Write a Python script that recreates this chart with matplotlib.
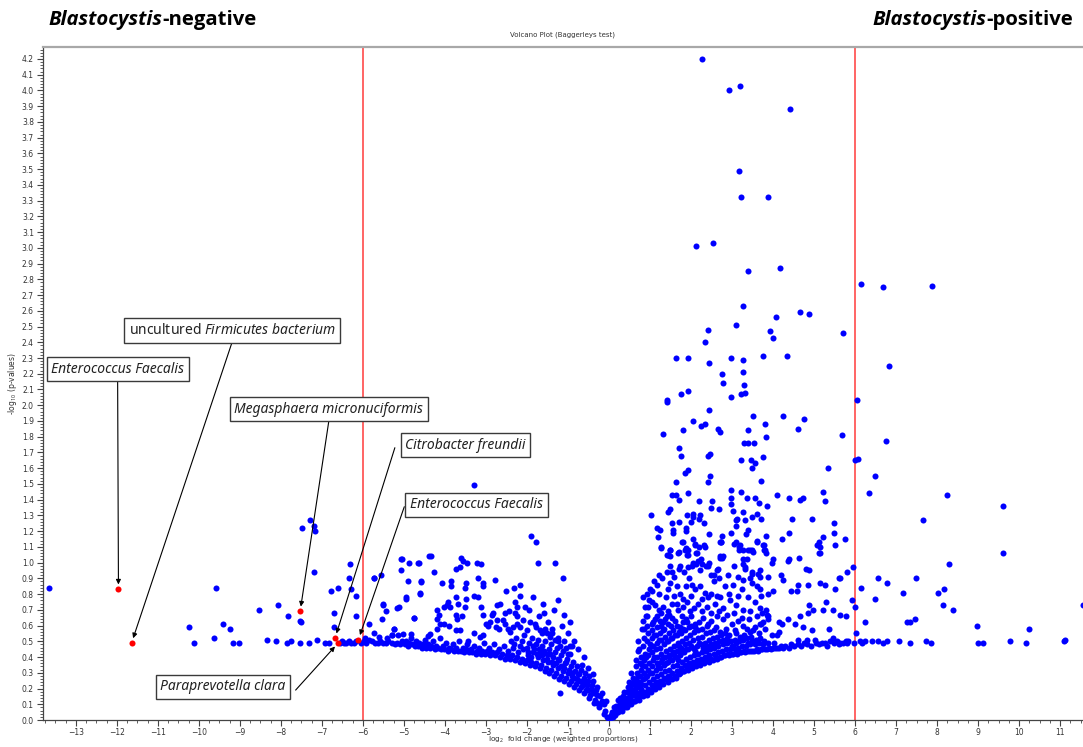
import matplotlib
matplotlib.use("Agg")
import matplotlib.pyplot as plt
from matplotlib.ticker import MultipleLocator, FormatStrFormatter

plt.rcParams['mathtext.fontset'] = 'custom'
plt.rcParams['mathtext.rm'] = 'Noto Sans'
plt.rcParams['mathtext.it'] = 'Noto Sans:italic'

# ---------------------------------------------------------------------------
# Data: (log2 fold change, -log10 p-value) per taxon
# ---------------------------------------------------------------------------

# Taxa enriched in Blastocystis-positive samples with strong signal
pos_high = [
    (2.28, 4.20), (3.20, 4.03), (2.93, 4.00), (4.42, 3.88), (3.17, 3.49), (3.23, 3.32), (3.87, 3.32),
    (2.13, 3.01), (2.54, 3.03), (3.38, 2.85), (4.16, 2.87), (3.28, 2.63), (4.65, 2.59), (4.88, 2.58),
    (4.07, 2.56), (3.09, 2.51), (2.42, 2.48), (3.93, 2.47), (4.01, 2.43), (5.71, 2.46), (2.35, 2.40),
    (1.63, 2.30), (1.93, 2.30), (2.98, 2.30), (3.28, 2.29), (3.76, 2.31), (4.35, 2.31), (2.44, 2.27),
    (2.76, 2.20), (3.26, 2.21), (2.77, 2.14), (3.30, 2.13), (1.76, 2.07), (1.93, 2.09), (2.97, 2.05),
    (3.21, 2.07), (3.33, 2.08), (1.41, 2.03), (1.42, 2.02), (2.45, 1.97), (3.52, 1.93), (4.24, 1.93),
    (4.75, 1.91), (2.04, 1.90), (2.24, 1.87), (2.35, 1.88), (3.81, 1.88), (2.67, 1.85), (2.71, 1.83),
    (4.60, 1.85), (1.32, 1.82), (1.80, 1.84), (3.39, 1.84), (3.84, 1.80), (5.69, 1.81), (3.29, 1.76),
    (3.40, 1.76), (3.54, 1.76), (1.70, 1.73), (1.75, 1.68), (2.42, 1.68), (2.46, 1.69), (3.21, 1.65),
    (3.46, 1.65), (3.55, 1.63), (3.75, 1.67), (3.48, 1.60), (5.34, 1.60), (1.93, 1.59), (1.85, 1.57),
    (2.46, 1.55), (1.63, 1.51), (2.41, 1.51), (3.72, 1.52), (1.55, 1.43), (1.63, 1.43), (1.92, 1.44),
    (1.72, 1.40), (2.98, 1.46), (3.23, 1.45), (2.98, 1.41), (3.36, 1.41), (3.57, 1.41), (4.11, 1.43),
    (4.38, 1.41), (4.65, 1.40), (4.74, 1.41), (5.23, 1.45), (5.27, 1.39), (2.19, 1.39), (2.51, 1.39),
    (2.50, 1.35), (2.68, 1.34), (2.97, 1.37), (3.02, 1.33), (3.67, 1.38), (3.85, 1.36), (1.50, 1.34),
    (1.45, 1.32), (1.03, 1.30), (1.90, 1.30), (2.04, 1.31), (2.06, 1.29), (2.23, 1.30), (2.19, 1.28),
    (3.28, 1.32), (3.60, 1.31), (3.13, 1.28), (3.11, 1.27), (3.33, 1.27), (3.50, 1.29), (3.71, 1.28),
    (4.46, 1.28), (4.94, 1.28), (1.55, 1.25), (1.70, 1.26), (2.00, 1.26), (2.33, 1.25), (1.18, 1.22),
    (1.24, 1.21), (1.57, 1.21), (1.57, 1.19), (1.88, 1.22), (1.88, 1.20), (3.10, 1.23), (3.38, 1.21),
    (2.97, 1.19), (3.35, 1.18), (3.82, 1.17), (4.40, 1.19), (5.48, 1.25), (5.49, 1.19), (2.45, 1.18),
    (2.76, 1.17), (1.20, 1.16), (2.05, 1.15), (1.80, 1.13), (2.09, 1.11), (2.19, 1.10), (2.34, 1.10),
    (2.71, 1.13), (2.74, 1.13), (3.11, 1.13), (3.20, 1.11), (3.62, 1.14), (3.62, 1.13), (3.79, 1.11),
    (3.77, 1.08), (4.23, 1.15), (5.22, 1.16), (5.12, 1.13), (5.08, 1.11), (5.15, 1.10), (5.52, 1.11),
    (5.76, 1.15), (1.28, 1.09), (1.49, 1.08), (1.41, 1.05), (1.49, 1.04), (1.69, 1.06), (1.85, 1.08),
    (1.94, 1.08), (1.90, 1.05), (2.13, 1.06), (3.16, 1.08), (3.40, 1.08), (3.48, 1.08), (3.83, 1.06),
    (5.12, 1.06), (2.72, 1.03), (2.76, 1.03), (4.63, 1.03), (2.24, 1.02), (3.28, 1.02), (4.01, 1.02),
    (4.38, 1.02),
]

# Taxa beyond the +6 fold-change threshold
pos_far = [
    (6.14, 2.77), (6.68, 2.75), (7.89, 2.76), (6.82, 2.25), (6.06, 2.03), (6.76, 1.77), (6.00, 1.65),
    (6.07, 1.66), (6.50, 1.55), (6.35, 1.44), (8.24, 1.43), (9.62, 1.36), (7.65, 1.27), (9.62, 1.06),
    (5.95, 0.97), (5.80, 0.94), (8.30, 0.99), (5.63, 0.90), (6.56, 0.90), (6.79, 0.87), (7.48, 0.90),
    (6.14, 0.84), (7.17, 0.81), (8.02, 0.81), (8.16, 0.83), (5.92, 0.76), (6.50, 0.77), (5.99, 0.72),
    (8.14, 0.73), (8.39, 0.70), (5.63, 0.67), (5.78, 0.66), (6.24, 0.62), (7.26, 0.62), (7.33, 0.62),
    (7.46, 0.64), (8.98, 0.60), (10.25, 0.58), (11.56, 0.73), (6.02, 0.55),
    (5.63, 0.49), (5.78, 0.50), (5.80, 0.49), (5.84, 0.50), (5.98, 0.49), (6.12, 0.50), (6.16, 0.49),
    (6.24, 0.50), (6.42, 0.50), (6.57, 0.50), (6.69, 0.49), (6.77, 0.50), (7.07, 0.50), (7.35, 0.49),
    (7.73, 0.50), (7.86, 0.49), (8.99, 0.49), (9.11, 0.49), (9.79, 0.50), (10.18, 0.49), (11.10, 0.50),
    (11.11, 0.51),
]

# Positive side, moderate signal
pos_mid = [
    (3.97, 1.00), (4.37, 1.01), (5.14, 1.06), (4.80, 0.96), (4.88, 0.95), (4.19, 0.92), (4.25, 0.89),
    (3.88, 0.91), (5.15, 0.87), (5.27, 0.86), (5.60, 0.90), (4.62, 0.86), (4.44, 0.82), (4.59, 0.82),
    (4.86, 0.86), (5.51, 0.83), (3.99, 0.82), (3.88, 0.80), (5.29, 0.75), (4.87, 0.73), (4.98, 0.70),
    (4.86, 0.68), (5.23, 0.70), (5.47, 0.70), (4.66, 0.66), (4.37, 0.64), (4.15, 0.62), (4.21, 0.61),
    (4.54, 0.61), (4.74, 0.59), (4.94, 0.57), (5.36, 0.58), (4.15, 0.56), (4.09, 0.54), (3.97, 0.54),
    (4.62, 0.51), (4.82, 0.51), (5.02, 0.51), (5.47, 0.52), (4.92, 0.47), (5.31, 0.47), (5.62, 0.48),
    (3.57, 0.59), (3.68, 0.61), (3.75, 0.62), (3.88, 0.64), (3.89, 0.66), (3.74, 0.68), (3.82, 0.70),
    (4.30, 0.47), (4.38, 0.46), (4.45, 0.48), (4.52, 0.47), (4.60, 0.48), (4.68, 0.47), (4.75, 0.49),
    (4.84, 0.48), (5.05, 0.49), (5.12, 0.48), (5.20, 0.49), (5.28, 0.49), (5.40, 0.50), (5.50, 0.49),
    (5.55, 0.50), (5.70, 0.49),
    (1.27, 1.10), (1.49, 1.08), (1.45, 1.05), (1.78, 1.13), (1.87, 1.09), (1.94, 1.05), (1.70, 1.07),
    (2.10, 1.12), (2.15, 1.06), (2.04, 1.00), (2.18, 1.01), (2.27, 0.99), (2.12, 0.99), (2.33, 1.11),
    (2.43, 1.00), (2.37, 0.98), (2.74, 1.13), (2.72, 1.04), (2.77, 1.04), (3.06, 1.12), (3.18, 1.10),
    (3.28, 1.08), (3.44, 1.08), (3.52, 1.07), (3.36, 1.02), (3.28, 0.99), (3.33, 0.97), (3.75, 1.11),
    (3.81, 1.08), (1.21, 0.92), (1.41, 0.94), (1.53, 0.94), (1.50, 0.98), (1.70, 0.96), (1.73, 0.98),
    (1.92, 0.97), (2.02, 0.98), (1.84, 0.94), (2.22, 0.95), (2.42, 0.98), (2.48, 0.92), (2.55, 0.92),
    (2.64, 0.95), (2.66, 0.96), (3.06, 0.98), (3.31, 0.96), (3.48, 0.94), (3.48, 0.93), (3.68, 0.95),
    (3.63, 0.93), (3.68, 0.91),
    (0.82, 0.78), (1.04, 0.75), (1.23, 0.80), (1.45, 0.83), (1.49, 0.87), (1.65, 0.85), (1.73, 0.80),
    (1.89, 0.85), (2.02, 0.86), (2.10, 0.83), (2.22, 0.85), (2.34, 0.81), (2.42, 0.78), (2.63, 0.79),
    (2.83, 0.85), (3.03, 0.86), (3.24, 0.83), (3.28, 0.89), (3.48, 0.87), (3.68, 0.83), (3.72, 0.79),
    (1.12, 0.73), (1.33, 0.72), (1.53, 0.74), (1.69, 0.70), (1.81, 0.72), (1.98, 0.69), (2.18, 0.74),
    (2.38, 0.72), (2.59, 0.74), (2.79, 0.71), (2.95, 0.76), (3.11, 0.73), (3.28, 0.70), (3.44, 0.69),
    (3.68, 0.71), (3.85, 0.67), (0.92, 0.66), (1.04, 0.61), (1.24, 0.63), (1.41, 0.66), (1.61, 0.63),
    (1.73, 0.59), (1.89, 0.64), (2.10, 0.61), (2.30, 0.65), (2.50, 0.63), (2.63, 0.66), (2.79, 0.64),
    (2.99, 0.61), (3.15, 0.63), (3.36, 0.58), (3.52, 0.57), (3.72, 0.61),
    (1.10, 0.88), (1.30, 0.90), (1.58, 0.91), (1.95, 0.90), (2.55, 0.88), (2.68, 0.90), (2.90, 0.92),
    (3.15, 0.91), (3.45, 0.90), (3.60, 0.85), (1.00, 0.83), (1.18, 0.86), (1.38, 0.78), (1.58, 0.79),
    (1.80, 0.77), (2.00, 0.79), (2.26, 0.77), (2.50, 0.80), (2.72, 0.78), (2.92, 0.80), (3.15, 0.79),
    (3.38, 0.78), (3.55, 0.75), (0.95, 0.72), (1.22, 0.70), (1.44, 0.69), (1.65, 0.74), (1.90, 0.75),
    (2.08, 0.71), (2.28, 0.69), (2.48, 0.68), (2.68, 0.69), (2.88, 0.67), (3.05, 0.68), (3.25, 0.65),
    (3.42, 0.64), (3.62, 0.66), (1.12, 0.64), (1.32, 0.62), (1.52, 0.60), (1.80, 0.62), (2.00, 0.60),
    (2.20, 0.62), (2.40, 0.60), (2.60, 0.59), (2.85, 0.58), (3.08, 0.57), (3.28, 0.60), (3.45, 0.56),
    (3.65, 0.55), (3.80, 0.58), (0.72, 0.50), (0.70, 0.44), (0.80, 0.58), (0.82, 0.63), (0.90, 0.66),
    (0.88, 0.72), (0.98, 0.76), (0.92, 0.80), (1.05, 0.82), (0.86, 0.58),
]

# Positive side, low-abundance taxa close to the origin
pos_dense = [
    (0.03, 0.01), (0.06, 0.03), (0.10, 0.02), (0.08, 0.05), (0.14, 0.03), (0.16, 0.06), (0.13, 0.08),
    (0.19, 0.05), (0.18, 0.09), (0.23, 0.05), (0.25, 0.08), (0.27, 0.11), (0.22, 0.13), (0.29, 0.07),
    (0.28, 0.14), (0.33, 0.06), (0.35, 0.09), (0.37, 0.12), (0.34, 0.15), (0.36, 0.18), (0.39, 0.08),
    (0.40, 0.14), (0.43, 0.08), (0.45, 0.11), (0.47, 0.14), (0.44, 0.18), (0.46, 0.21), (0.48, 0.24),
    (0.50, 0.10), (0.49, 0.17), (0.53, 0.10), (0.55, 0.13), (0.57, 0.16), (0.54, 0.20), (0.56, 0.23),
    (0.58, 0.27), (0.55, 0.30), (0.60, 0.12), (0.59, 0.19), (0.61, 0.25), (0.63, 0.12), (0.65, 0.15),
    (0.67, 0.18), (0.64, 0.22), (0.66, 0.26), (0.68, 0.30), (0.65, 0.34), (0.67, 0.38), (0.70, 0.14),
    (0.69, 0.21), (0.71, 0.28), (0.73, 0.13), (0.75, 0.17), (0.77, 0.20), (0.74, 0.24), (0.76, 0.28),
    (0.78, 0.32), (0.75, 0.36), (0.77, 0.40), (0.74, 0.45), (0.80, 0.16), (0.79, 0.23), (0.81, 0.35),
    (0.83, 0.15), (0.85, 0.18), (0.87, 0.22), (0.84, 0.26), (0.86, 0.30), (0.88, 0.34), (0.85, 0.38),
    (0.87, 0.42), (0.84, 0.47), (0.86, 0.52), (0.90, 0.17), (0.89, 0.27), (0.91, 0.40), (0.93, 0.16),
    (0.95, 0.20), (0.97, 0.24), (0.94, 0.28), (0.96, 0.32), (0.98, 0.36), (0.95, 0.41), (0.97, 0.45),
    (0.94, 0.50), (0.96, 0.55), (0.93, 0.60), (1.00, 0.19), (0.99, 0.30), (1.01, 0.48), (1.03, 0.18),
    (1.05, 0.22), (1.07, 0.26), (1.04, 0.30), (1.06, 0.34), (1.08, 0.38), (1.05, 0.43), (1.07, 0.47),
    (1.04, 0.52), (1.06, 0.57), (1.08, 0.62), (1.10, 0.21), (1.09, 0.40), (1.11, 0.54), (1.13, 0.20),
    (1.15, 0.24), (1.17, 0.28), (1.14, 0.32), (1.16, 0.36), (1.18, 0.40), (1.15, 0.45), (1.17, 0.49),
    (1.14, 0.54), (1.16, 0.59), (1.18, 0.66), (1.20, 0.23), (1.19, 0.34), (1.21, 0.51), (1.23, 0.21),
    (1.25, 0.25), (1.27, 0.29), (1.24, 0.33), (1.26, 0.37), (1.28, 0.42), (1.25, 0.46), (1.27, 0.51),
    (1.24, 0.55), (1.26, 0.60), (1.28, 0.68), (1.30, 0.24), (1.29, 0.39), (1.31, 0.57), (1.33, 0.23),
    (1.35, 0.27), (1.37, 0.31), (1.34, 0.35), (1.36, 0.40), (1.38, 0.44), (1.35, 0.48), (1.37, 0.53),
    (1.34, 0.58), (1.36, 0.64), (1.40, 0.26), (1.39, 0.36), (1.41, 0.50), (1.43, 0.24), (1.45, 0.28),
    (1.47, 0.32), (1.44, 0.37), (1.46, 0.41), (1.48, 0.45), (1.45, 0.50), (1.47, 0.55), (1.44, 0.61),
    (1.46, 0.67), (1.50, 0.27), (1.49, 0.39), (1.51, 0.52), (1.53, 0.26), (1.55, 0.30), (1.57, 0.34),
    (1.54, 0.38), (1.56, 0.43), (1.58, 0.47), (1.55, 0.52), (1.57, 0.57), (1.54, 0.65), (1.60, 0.28),
    (1.59, 0.41), (1.61, 0.54), (1.63, 0.27), (1.65, 0.31), (1.67, 0.35), (1.64, 0.40), (1.66, 0.44),
    (1.68, 0.49), (1.65, 0.54), (1.67, 0.60), (1.70, 0.29), (1.69, 0.38), (1.71, 0.47), (1.72, 0.56),
    (1.73, 0.30), (1.75, 0.33), (1.77, 0.37), (1.74, 0.41), (1.76, 0.46), (1.78, 0.50), (1.75, 0.55),
    (1.77, 0.66), (1.80, 0.31), (1.79, 0.43), (1.81, 0.58), (1.83, 0.31), (1.85, 0.35), (1.87, 0.39),
    (1.84, 0.43), (1.86, 0.48), (1.88, 0.52), (1.85, 0.57), (1.90, 0.33), (1.89, 0.45), (1.91, 0.62),
    (1.93, 0.32), (1.95, 0.36), (1.97, 0.40), (1.94, 0.45), (1.96, 0.49), (1.98, 0.54), (1.95, 0.59),
    (2.00, 0.34), (1.99, 0.47), (2.01, 0.66), (2.03, 0.33), (2.05, 0.37), (2.07, 0.41), (2.04, 0.46),
    (2.06, 0.51), (2.08, 0.56), (2.10, 0.35), (2.09, 0.44), (2.11, 0.59), (2.13, 0.34), (2.15, 0.38),
    (2.17, 0.42), (2.14, 0.47), (2.16, 0.52), (2.18, 0.57), (2.20, 0.36), (2.19, 0.49), (2.23, 0.35),
    (2.25, 0.39), (2.27, 0.43), (2.24, 0.48), (2.26, 0.53), (2.28, 0.58), (2.30, 0.37), (2.29, 0.46),
    (2.33, 0.36), (2.35, 0.40), (2.37, 0.44), (2.34, 0.49), (2.36, 0.55), (2.40, 0.38), (2.39, 0.47),
    (2.41, 0.61), (2.43, 0.37), (2.45, 0.41), (2.47, 0.45), (2.44, 0.51), (2.46, 0.56), (2.50, 0.39),
    (2.49, 0.48), (2.53, 0.38), (2.55, 0.42), (2.57, 0.46), (2.54, 0.52), (2.56, 0.57), (2.60, 0.40),
    (2.59, 0.49), (2.63, 0.39), (2.65, 0.43), (2.67, 0.47), (2.64, 0.53), (2.70, 0.40), (2.69, 0.50),
    (2.71, 0.56), (2.73, 0.40), (2.75, 0.44), (2.77, 0.48), (2.74, 0.54), (2.80, 0.41), (2.79, 0.51),
    (2.83, 0.41), (2.85, 0.45), (2.87, 0.49), (2.84, 0.55), (2.90, 0.42), (2.89, 0.52), (2.93, 0.41),
    (2.95, 0.45), (2.97, 0.50), (2.94, 0.54), (3.00, 0.42), (2.99, 0.47), (3.03, 0.42), (3.05, 0.46),
    (3.07, 0.51), (3.10, 0.43), (3.09, 0.49), (3.11, 0.55), (3.13, 0.42), (3.15, 0.46), (3.17, 0.50),
    (3.20, 0.43), (3.19, 0.53), (3.23, 0.43), (3.25, 0.47), (3.27, 0.51), (3.30, 0.44), (3.29, 0.54),
    (3.33, 0.43), (3.35, 0.47), (3.37, 0.52), (3.40, 0.44), (3.39, 0.49), (3.43, 0.44), (3.45, 0.48),
    (3.47, 0.53), (3.50, 0.44), (3.49, 0.50), (3.53, 0.44), (3.55, 0.48), (3.60, 0.45), (3.59, 0.51),
    (3.63, 0.44), (3.65, 0.49), (3.70, 0.45), (3.69, 0.52), (3.73, 0.45), (3.75, 0.48), (3.80, 0.45),
    (3.79, 0.50), (3.85, 0.45), (3.90, 0.46), (3.88, 0.49), (3.95, 0.45), (4.00, 0.46), (4.05, 0.46),
    (4.02, 0.49), (4.10, 0.46), (4.15, 0.46), (4.20, 0.47), (4.25, 0.46),
]

# Taxa enriched in Blastocystis-negative samples, beyond about -5
neg_far = [
    (-13.65, 0.84), (-10.23, 0.59), (-10.11, 0.49), (-9.57, 0.84), (-9.63, 0.52), (-9.41, 0.61),
    (-9.24, 0.58), (-9.16, 0.49), (-9.02, 0.49), (-8.54, 0.70), (-8.33, 0.51), (-8.13, 0.50),
    (-8.06, 0.73), (-7.82, 0.66), (-7.85, 0.49), (-7.76, 0.50), (-7.54, 0.49), (-7.53, 0.63),
    (-7.50, 0.62), (-7.49, 1.22), (-7.29, 1.27), (-7.20, 1.23), (-7.16, 1.20), (-7.20, 0.94),
    (-7.32, 0.49), (-7.12, 0.51), (-6.93, 0.49), (-6.83, 0.49), (-6.78, 0.82), (-6.70, 0.68),
    (-6.60, 0.84), (-6.70, 0.59), (-6.32, 0.99), (-6.33, 0.90), (-6.30, 0.83), (-6.17, 0.79),
    (-6.17, 0.66), (-5.85, 0.61), (-5.86, 0.51), (-5.73, 0.90), (-5.57, 0.92), (-5.50, 0.73),
    (-5.44, 0.69), (-5.53, 0.64), (-5.29, 0.54), (-5.23, 0.58), (-5.18, 0.71), (-5.13, 0.72),
    (-5.07, 1.02), (-5.08, 0.95), (-4.87, 1.00), (-4.65, 1.00), (-4.91, 0.88), (-4.59, 0.88),
    (-4.96, 0.77), (-4.61, 0.80), (-4.75, 0.65), (-4.39, 1.04),
    (-6.55, 0.49), (-6.50, 0.50), (-6.45, 0.49), (-6.40, 0.49), (-6.35, 0.50), (-6.28, 0.49),
    (-6.22, 0.49), (-6.16, 0.50), (-6.04, 0.49), (-5.98, 0.50), (-5.92, 0.49), (-5.78, 0.50),
    (-5.70, 0.49), (-5.64, 0.49), (-5.58, 0.50), (-5.50, 0.49), (-5.44, 0.49), (-5.38, 0.50),
    (-5.30, 0.49), (-5.22, 0.48), (-5.16, 0.49), (-5.10, 0.48), (-5.05, 0.50), (-5.95, 0.52),
    (-5.60, 0.53), (-5.40, 0.52), (-5.15, 0.54), (-5.72, 0.55),
]

# Negative side, moderate signal
neg_mid = [
    (-3.29, 1.49), (-1.89, 1.17), (-1.79, 1.13), (-1.74, 1.00), (-1.32, 1.00), (-1.12, 0.90),
    (-5.05, 1.02), (-4.64, 1.00), (-4.35, 1.04), (-4.27, 0.94), (-3.61, 1.03), (-3.57, 1.01),
    (-3.47, 1.00), (-3.64, 0.97), (-3.73, 0.96), (-3.21, 1.00), (-3.11, 0.99), (-5.74, 0.90),
    (-4.58, 0.875), (-4.08, 0.87), (-3.84, 0.88), (-3.84, 0.85), (-3.49, 0.87), (-3.52, 0.84),
    (-3.19, 0.90), (-3.08, 0.87), (-3.08, 0.85), (-2.77, 0.89), (-2.50, 0.82), (-2.32, 0.84),
    (-2.17, 0.86), (-5.51, 0.735), (-4.95, 0.78), (-4.61, 0.81), (-4.76, 0.65), (-3.96, 0.73),
    (-3.92, 0.75), (-4.02, 0.72), (-3.88, 0.72), (-3.73, 0.78), (-3.68, 0.74), (-3.59, 0.66),
    (-3.49, 0.77), (-3.52, 0.72), (-3.30, 0.79), (-3.19, 0.78), (-3.13, 0.72), (-3.07, 0.67),
    (-2.82, 0.68), (-2.74, 0.73), (-2.66, 0.74), (-2.54, 0.68), (-2.43, 0.69), (-2.25, 0.72),
    (-2.30, 0.75), (-2.17, 0.79), (-2.30, 0.68), (-2.25, 0.66), (-1.58, 0.68), (-1.24, 0.76),
    (-1.09, 0.67), (-5.25, 0.58), (-5.28, 0.54), (-5.02, 0.547), (-4.82, 0.547), (-4.37, 0.547),
    (-4.41, 0.534), (-4.19, 0.70), (-4.14, 0.67), (-4.19, 0.64), (-4.12, 0.61), (-4.19, 0.58),
    (-4.03, 0.61), (-3.90, 0.60), (-3.72, 0.67), (-3.70, 0.64), (-3.72, 0.57), (-3.64, 0.57),
    (-3.43, 0.50), (-3.30, 0.55), (-3.15, 0.53), (-3.08, 0.54), (-2.99, 0.61), (-2.95, 0.60),
    (-2.86, 0.67), (-2.90, 0.625), (-2.74, 0.635), (-2.76, 0.59), (-2.68, 0.58), (-2.59, 0.635),
    (-2.53, 0.61), (-2.46, 0.58), (-2.42, 0.56), (-2.34, 0.59), (-2.25, 0.61), (-2.17, 0.59),
    (-2.09, 0.635), (-2.01, 0.57), (-1.93, 0.625), (-1.81, 0.61), (-1.77, 0.59), (-1.68, 0.57),
    (-1.64, 0.55), (-1.52, 0.55), (-1.44, 0.53), (-1.40, 0.55), (-1.32, 0.51), (-1.24, 0.50),
    (-1.20, 0.47), (-1.04, 0.46), (-1.00, 0.42), (-0.95, 0.47), (-1.19, 0.17),
    (-1.95, 0.70), (-1.70, 0.66), (-1.48, 0.62), (-1.60, 0.74), (-1.35, 0.70), (-1.15, 0.60),
    (-1.00, 0.55), (-1.40, 0.58), (-1.85, 0.78), (-2.05, 0.72), (-0.95, 0.62), (-0.85, 0.50),
    (-0.75, 0.45), (-0.60, 0.40), (-0.65, 0.35), (-0.50, 0.33), (-0.40, 0.29), (-1.25, 0.52),
    (-1.55, 0.58), (-0.90, 0.47), (-1.10, 0.50),
]

# Negative side, low-abundance taxa close to the origin
neg_dense = [
    (-4.98, 0.48), (-4.95, 0.50), (-4.90, 0.47), (-4.88, 0.49), (-4.83, 0.52), (-4.79, 0.48),
    (-4.74, 0.47), (-4.71, 0.50), (-4.66, 0.47), (-4.62, 0.49), (-4.57, 0.46), (-4.53, 0.48),
    (-4.49, 0.51), (-4.45, 0.46), (-4.41, 0.48), (-4.37, 0.46), (-4.33, 0.47), (-4.29, 0.50),
    (-4.25, 0.45), (-4.21, 0.47), (-4.17, 0.46), (-4.13, 0.52), (-4.09, 0.45), (-4.05, 0.47),
    (-4.01, 0.45), (-3.97, 0.49), (-3.93, 0.44), (-3.89, 0.46), (-3.85, 0.45), (-3.81, 0.48),
    (-3.77, 0.44), (-3.73, 0.46), (-3.69, 0.44), (-3.65, 0.50), (-3.61, 0.44), (-3.57, 0.46),
    (-3.53, 0.43), (-3.49, 0.45), (-3.45, 0.48), (-3.41, 0.43), (-3.37, 0.45), (-3.33, 0.43),
    (-3.29, 0.47), (-3.25, 0.42), (-3.21, 0.44), (-3.17, 0.46), (-3.13, 0.42), (-3.09, 0.44),
    (-3.05, 0.49), (-3.01, 0.42), (-2.97, 0.44), (-2.93, 0.46), (-2.89, 0.41), (-2.85, 0.43),
    (-2.81, 0.48), (-2.77, 0.41), (-2.73, 0.43), (-2.69, 0.45), (-2.65, 0.40), (-2.61, 0.42),
    (-2.57, 0.47), (-2.53, 0.39), (-2.49, 0.41), (-2.45, 0.44), (-2.41, 0.39), (-2.37, 0.41),
    (-2.33, 0.46), (-2.29, 0.38), (-2.25, 0.40), (-2.21, 0.43), (-2.17, 0.37), (-2.13, 0.39),
    (-2.09, 0.45), (-2.05, 0.36), (-2.01, 0.38), (-1.97, 0.41), (-1.93, 0.35), (-1.89, 0.37),
    (-1.85, 0.43), (-1.81, 0.34), (-1.77, 0.36), (-1.73, 0.40), (-1.69, 0.33), (-1.65, 0.35),
    (-1.61, 0.38), (-1.57, 0.31), (-1.53, 0.33), (-1.49, 0.37), (-1.45, 0.30), (-1.41, 0.32),
    (-1.37, 0.35), (-1.33, 0.28), (-1.29, 0.30), (-1.25, 0.33), (-1.21, 0.26), (-1.17, 0.28),
    (-1.13, 0.31), (-1.09, 0.25), (-1.05, 0.27), (-1.01, 0.30), (-0.97, 0.23), (-0.93, 0.25),
    (-0.89, 0.28), (-0.85, 0.21), (-0.81, 0.23), (-0.77, 0.26), (-0.73, 0.19), (-0.69, 0.21),
    (-0.65, 0.24), (-0.61, 0.17), (-0.57, 0.19), (-0.53, 0.22), (-0.49, 0.14), (-0.45, 0.16),
    (-0.41, 0.19), (-0.37, 0.11), (-0.33, 0.13), (-0.29, 0.16), (-0.25, 0.08), (-0.21, 0.10),
    (-0.17, 0.12), (-0.13, 0.04), (-0.09, 0.06), (-0.05, 0.02), (0.00, 0.00),
    (-2.40, 0.50), (-2.32, 0.48), (-2.26, 0.52), (-2.18, 0.47), (-2.12, 0.50), (-2.06, 0.54),
    (-2.00, 0.46), (-1.94, 0.49), (-1.88, 0.52), (-1.82, 0.45), (-1.78, 0.48), (-1.72, 0.51),
    (-1.66, 0.44), (-1.62, 0.47), (-1.56, 0.50), (-1.52, 0.42), (-1.46, 0.45), (-1.42, 0.48),
    (-1.36, 0.40), (-1.32, 0.43), (-1.26, 0.46), (-1.22, 0.38), (-1.16, 0.41), (-1.12, 0.44),
    (-1.06, 0.36), (-1.02, 0.39), (-0.96, 0.42), (-0.92, 0.34), (-0.88, 0.37), (-0.82, 0.31),
    (-0.78, 0.34), (-0.72, 0.29), (-0.68, 0.32), (-0.62, 0.27), (-0.58, 0.30), (-0.52, 0.25),
    (-0.48, 0.28), (-0.42, 0.22), (-0.38, 0.25), (-0.32, 0.19), (-0.28, 0.21), (-0.22, 0.15),
    (-0.18, 0.17), (-0.12, 0.10), (-0.08, 0.12),
    (-1.98, 0.43), (-1.90, 0.40), (-1.84, 0.47), (-1.76, 0.42), (-1.70, 0.45), (-1.64, 0.41),
    (-1.58, 0.44), (-1.50, 0.39), (-1.44, 0.42), (-1.38, 0.37), (-1.30, 0.36), (-1.24, 0.39),
    (-1.18, 0.34), (-1.10, 0.33), (-1.04, 0.37), (-0.98, 0.32), (-0.90, 0.30), (-0.84, 0.27),
    (-0.76, 0.29), (-0.70, 0.25), (-0.64, 0.22), (-0.56, 0.24), (-0.50, 0.19), (-0.44, 0.20),
    (-0.36, 0.17), (-0.30, 0.11),
]

# Highlighted taxa
highlight_names = [
    "Enterococcus Faecalis",
    "uncultured $\\mathit{Firmicutes\\ bacterium}$",
    "Megasphaera micronuciformis",
    "Citrobacter freundii",
    "Enterococcus Faecalis",
    "Paraprevotella clara",
]
highlight_x = [-11.96, -11.64, -7.53, -6.68, -6.11, -6.60]
highlight_y = [0.83, 0.49, 0.69, 0.52, 0.51, 0.49]

x_ticks = list(range(-13, 12))
y_ticks = [round(0.1 * i, 1) for i in range(43)]
fc_threshold = 6

# ---------------------------------------------------------------------------
# Figure
# ---------------------------------------------------------------------------
W, H = 1083, 747
fig = plt.figure(figsize=(W / 100, H / 100), dpi=100)
fig.patch.set_facecolor("white")
ax = fig.add_axes([43 / W, 27 / H, 1 - 43 / W, (720 - 47) / H])

all_points = pos_high + pos_far + pos_mid + pos_dense + neg_far + neg_mid + neg_dense
xs = [p[0] for p in all_points]
ys = [p[1] for p in all_points]
ax.scatter(xs, ys, s=19, c="#0000ff", linewidths=0, zorder=3)
ax.scatter(highlight_x, highlight_y, s=19, c="#ff0000", linewidths=0, zorder=4)

for xv in (-fc_threshold, fc_threshold):
    ax.axvline(xv, color="#ff4a4a", lw=1.2, zorder=2)

ax.set_xlim(-13.80, 11.56)
ax.set_ylim(0, 4.276)

ax.xaxis.set_major_locator(MultipleLocator(1))
ax.xaxis.set_minor_locator(MultipleLocator(0.25))
ax.yaxis.set_major_locator(MultipleLocator(0.1))
ax.yaxis.set_minor_locator(MultipleLocator(0.02))
ax.yaxis.set_major_formatter(FormatStrFormatter("%.1f"))
ax.set_xticks(x_ticks)
ax.set_yticks(y_ticks)

ax.tick_params(axis="both", which="major", length=4.5, width=0.8, color="#444444",
               labelsize=5.5, labelcolor="#333333", pad=2)
ax.tick_params(axis="x", which="major", pad=1.0)
ax.tick_params(axis="both", which="minor", length=2.2, width=0.6, color="#444444")

ax.spines["right"].set_visible(False)
ax.spines["top"].set_color("#a8a8a8")
ax.spines["top"].set_linewidth(1.6)
ax.spines["left"].set_color("#444444")
ax.spines["bottom"].set_color("#444444")
ax.spines["left"].set_linewidth(0.9)
ax.spines["bottom"].set_linewidth(0.9)

ax.set_xlabel("log$_2$  fold change (weighted proportions)", fontsize=5.3, color="#333333",
              fontfamily="DejaVu Sans", va="top")
ax.xaxis.set_label_coords(0.5, -0.0215)
ax.set_ylabel("-log$_{10}$ (p-values)", fontsize=5.5, color="#333333",
              fontfamily="DejaVu Sans")
ax.yaxis.set_label_coords(-0.023, 0.5)

fig.text(563 / W, 1 - 35 / H, "Volcano Plot (Baggerleys test)", ha="center", va="center",
         fontsize=5, color="#333333")

# Label boxes and arrows (box centre, arrow start) in data coordinates
label_layout = [
    ((-11.98, 2.23), (-11.98, 2.16)),
    ((-9.19, 2.475), (-9.19, 2.40)),
    ((-6.83, 1.975), (-6.83, 1.90)),
    ((-3.50, 1.745), (-5.22, 1.73)),
    ((-3.23, 1.367), (-4.99, 1.355)),
    ((-9.41, 0.21), (-7.64, 0.19)),
]
for name, px, py, (centre, start) in zip(highlight_names, highlight_x, highlight_y, label_layout):
    style = "normal" if name.startswith("uncultured") else "italic"
    ax.annotate("", xy=(px, py), xytext=start,
                arrowprops=dict(arrowstyle="-|>", color="black", lw=0.8,
                                shrinkA=0, shrinkB=3.5, mutation_scale=7),
                zorder=5)
    ax.text(centre[0], centre[1], name, ha="center", va="center", fontsize=10,
            fontstyle=style, fontfamily="Noto Sans", color="#222222", zorder=6,
            bbox=dict(boxstyle="square,pad=0.33", fc="white", ec="#3a3a3a", lw=1.0))

# Group headers: italic genus followed by bold status
renderer = fig.canvas.get_renderer()
hdr_y = 1 - 20 / H
hdr_size = 14.6
hdr_font = ["Open Sans", "DejaVu Sans"]
t1 = fig.text(48 / W, hdr_y, "Blastocystis", ha="left", va="center", fontsize=hdr_size,
              fontweight="bold", fontstyle="italic", fontfamily=hdr_font)
bb = t1.get_window_extent(renderer)
fig.text(bb.x1 / W, hdr_y, "-negative", ha="left", va="center", fontsize=hdr_size,
         fontweight="bold", fontfamily=hdr_font)

t2 = fig.text(1073 / W, hdr_y, "-positive", ha="right", va="center", fontsize=hdr_size,
              fontweight="bold", fontfamily=hdr_font)
bb2 = t2.get_window_extent(renderer)
fig.text(bb2.x0 / W, hdr_y, "Blastocystis", ha="right", va="center", fontsize=hdr_size,
         fontweight="bold", fontstyle="italic", fontfamily=hdr_font)

fig.savefig("out.png", dpi=100, facecolor="white")
